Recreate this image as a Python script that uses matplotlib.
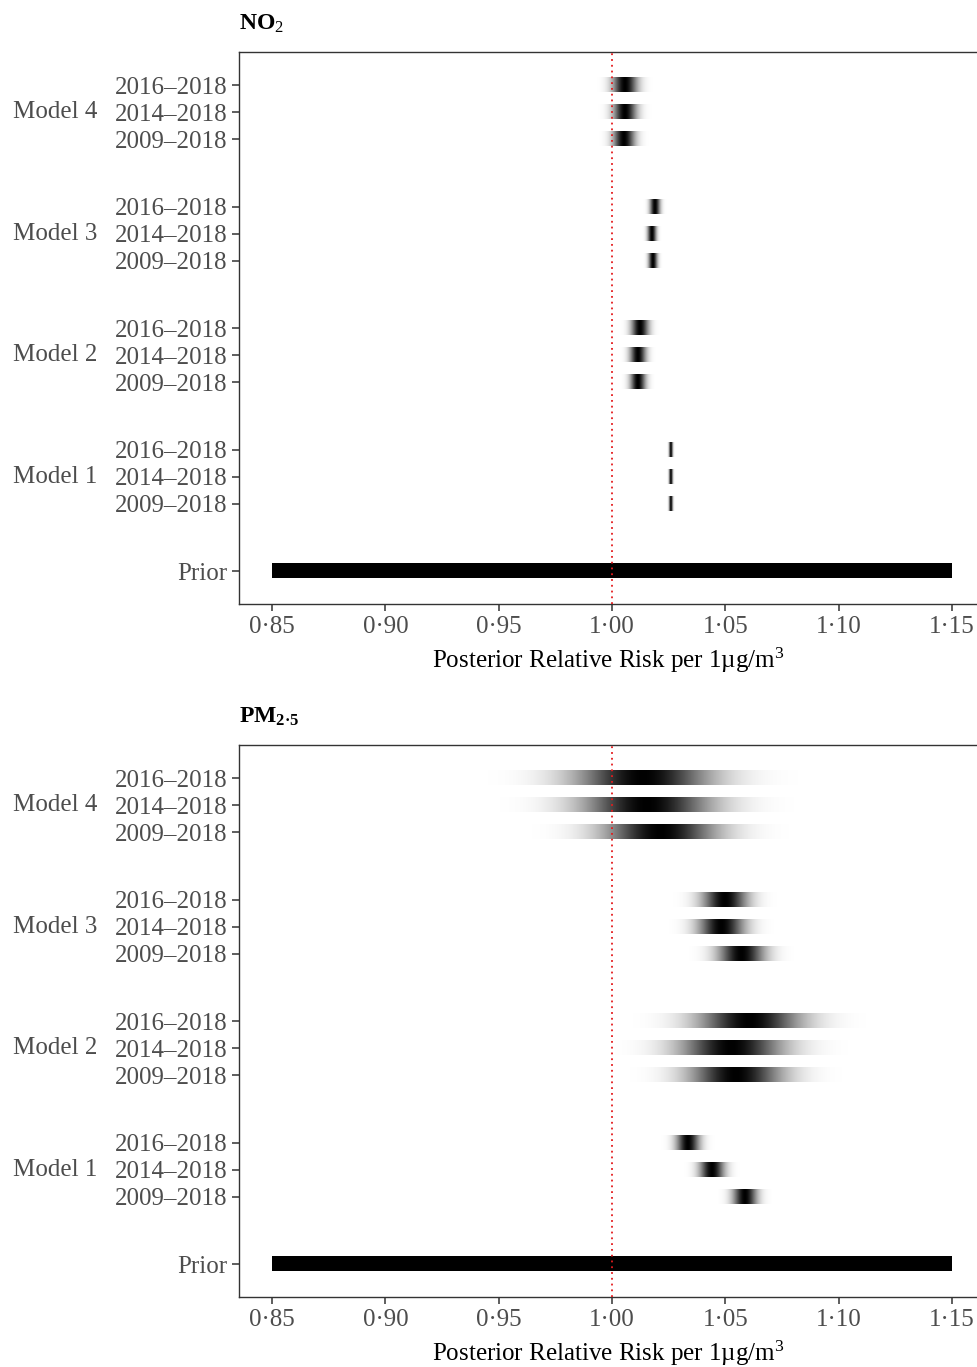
import numpy as np
import matplotlib
matplotlib.use("Agg")
import matplotlib.pyplot as plt
from matplotlib.ticker import FixedLocator, FuncFormatter

plt.rcParams.update({
    "font.family": ["Liberation Serif", "DejaVu Serif"],
    "mathtext.fontset": "custom",
    "mathtext.rm": "Liberation Serif",
    "mathtext.it": "Liberation Serif:italic",
    "mathtext.bf": "Liberation Serif:bold",
})

# rows from bottom to top: Prior, then each model with three study periods
models = ["Model 1", "Model 2", "Model 3", "Model 4"]
periods = ["2009\u20132018", "2014\u20132018", "2016\u20132018"]

# posterior relative risk (mean, sd) per model, periods in the order above
no2_mean = [
    [1.0258, 1.0256, 1.0258],
    [1.0113, 1.0114, 1.0123],
    [1.0178, 1.0174, 1.0188],
    [1.0052, 1.0055, 1.0057],
]
no2_sd = [
    [0.0005, 0.0005, 0.0005],
    [0.0023, 0.0024, 0.0026],
    [0.0013, 0.0013, 0.0015],
    [0.0033, 0.0035, 0.0037],
]
pm25_mean = [
    [1.0585, 1.0440, 1.0333],
    [1.0548, 1.0528, 1.0607],
    [1.0572, 1.0483, 1.0497],
    [1.0210, 1.0152, 1.0135],
]
pm25_sd = [
    [0.0036, 0.0037, 0.0035],
    [0.0140, 0.0155, 0.0155],
    [0.0070, 0.0070, 0.0068],
    [0.0170, 0.0195, 0.0205],
]

prior_range = (0.85, 1.15)
x_ticks = [0.85, 0.90, 0.95, 1.00, 1.05, 1.10, 1.15]

GROUP_STEP = 4.5
BAR_H = 0.52
FS = 18


def row_positions():
    ys, labels = [0.0], ["Prior"]
    for g in range(len(models)):
        base = 2.5 + g * GROUP_STEP
        for k, p in enumerate(periods):
            ys.append(base + k)
            labels.append(p)
    return ys, labels


def draw_strip(ax, y, lo, hi, mean=None, sd=None):
    xs = np.linspace(lo, hi, 600)
    if mean is None:
        alpha = np.ones_like(xs)
    else:
        alpha = np.exp(-0.5 * ((xs - mean) / sd) ** 2)
    rgba = np.zeros((1, xs.size, 4))
    rgba[0, :, 3] = alpha
    ax.imshow(rgba, extent=(lo, hi, y - BAR_H / 2, y + BAR_H / 2),
              aspect="auto", interpolation="bilinear", origin="lower", zorder=2)


def draw_panel(ax, means, sds, title):
    ys, labels = row_positions()
    draw_strip(ax, 0.0, *prior_range)
    i = 1
    for g in range(len(models)):
        for k in range(len(periods)):
            m, s = means[g][k], sds[g][k]
            draw_strip(ax, ys[i], max(m - 4 * s, 0.80), m + 4 * s, m, s)
            i += 1

    ax.axvline(1.0, color="#E41A1C", linestyle=(0, (1, 2.2)), linewidth=1.3, zorder=3)

    ax.set_xlim(0.8354, 1.1615)
    ax.set_ylim(-1.22, 19.23)
    ax.xaxis.set_major_locator(FixedLocator(x_ticks))
    ax.xaxis.set_major_formatter(FuncFormatter(lambda v, _: f"{v:.2f}".replace(".", "\u00b7")))
    ax.set_yticks(ys)
    ax.set_yticklabels(labels)
    ax.tick_params(axis="both", colors="#333333", labelcolor="#4D4D4D",
                   labelsize=FS, length=5, width=1.1)
    for sp in ax.spines.values():
        sp.set_color("#333333")
        sp.set_linewidth(1.0)
    ax.set_xlabel("Posterior Relative Risk per 1\u00b5g/m$^3$", fontsize=FS, labelpad=6)

    for g, name in enumerate(models):
        yc = 2.5 + g * GROUP_STEP + 1
        ax.text(-0.306, yc, name, transform=ax.get_yaxis_transform(),
                ha="left", va="center", fontsize=FS, color="#4D4D4D")

    ax.text(0.0, 1.03, title, transform=ax.transAxes, ha="left", va="bottom",
            fontsize=17, fontweight="bold")


fig = plt.figure(figsize=(9.78, 13.67), dpi=100)
ax1 = fig.add_axes([0.2444, 0.5582, 0.7556, 0.4038])
ax2 = fig.add_axes([0.2444, 0.0512, 0.7556, 0.4038])

draw_panel(ax1, no2_mean, no2_sd, r"$\mathbf{NO}_{\mathrm{2}}$")
draw_panel(ax2, pm25_mean, pm25_sd, r"$\mathbf{PM}_{\mathbf{2·5}}$")

fig.savefig("out.png", dpi=100)
